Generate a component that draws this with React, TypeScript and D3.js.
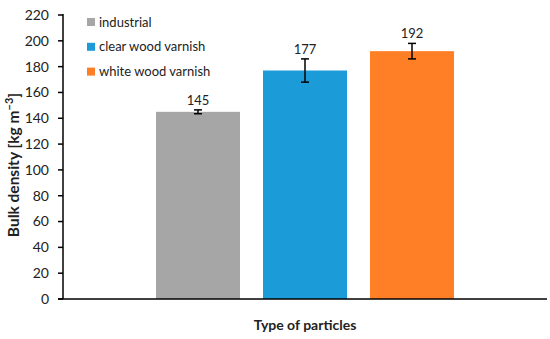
import React from "react";
import { scaleLinear, scaleBand } from "d3";

// one category, three particle types
const categories = ["Type of particles"];
const seriesNames = ["industrial", "clear wood varnish", "white wood varnish"];
const seriesValues = [145, 177, 192];
const seriesErrors = [1.5, 9, 6];
const seriesColors = ["#a6a6a6", "#1b9bd7", "#fe7f26"];
const yTicks = [0, 20, 40, 60, 80, 100, 120, 140, 160, 180, 200, 220];

const W = 550;
const H = 339;
const left = 63;
const right = 547;
const top = 15;
const bottom = 299;
const font = "Lato, 'Open Sans', sans-serif";

export default function App() {
  const y = scaleLinear().domain([0, 220]).range([bottom, top]);
  const x0 = scaleBand().domain(categories).range([left, right]).paddingInner(0).paddingOuter(0.312);
  const x1 = scaleBand().domain(seriesNames).range([0, x0.bandwidth()]).paddingInner(0.215).paddingOuter(0);

  return (
    <svg width={W} height={H} style={{ position: "absolute", left: 0, top: 0, background: "#fff" }}>
      {/* bars */}
      {seriesNames.map((s, i) => {
        const bx = (x0(categories[0]) as number) + (x1(s) as number);
        const cx = bx + x1.bandwidth() / 2;
        const v = seriesValues[i];
        const e = seriesErrors[i];
        return (
          <g key={s}>
            <rect x={bx} y={y(v)} width={x1.bandwidth()} height={y(0) - y(v)} fill={seriesColors[i]} />
            <line x1={cx} x2={cx} y1={y(v + e)} y2={y(v - e)} stroke="#000" strokeWidth={1.5} />
            <line x1={cx - 4} x2={cx + 4} y1={y(v + e)} y2={y(v + e)} stroke="#000" strokeWidth={1.5} />
            <line x1={cx - 4} x2={cx + 4} y1={y(v - e)} y2={y(v - e)} stroke="#000" strokeWidth={1.5} />
            <text x={cx} y={y(v + e) - 5} textAnchor="middle" fontFamily={font} fontSize={13} fill="#222">
              {v}
            </text>
          </g>
        );
      })}

      {/* y axis */}
      <line x1={left} x2={left} y1={top - 1} y2={bottom} stroke="#000" strokeWidth={1.5} />
      {yTicks.map((t) => (
        <g key={t}>
          <line x1={left - 5} x2={left} y1={y(t)} y2={y(t)} stroke="#000" strokeWidth={1.5} />
          <text x={left - 14} y={y(t)} dy="0.35em" textAnchor="end" fontFamily={font} fontSize={14} fill="#222">
            {t}
          </text>
        </g>
      ))}

      {/* x axis */}
      <line x1={left - 5} x2={right} y1={bottom} y2={bottom} stroke="#000" strokeWidth={1.5} />

      {/* axis titles */}
      <text
        transform={`translate(14,165) rotate(-90)`}
        textAnchor="middle"
        dy="0.35em"
        fontFamily={font}
        fontSize={15.5}
        fontWeight="bold"
        fill="#222"
      >
        Bulk density [kg m<tspan dy="-6" fontSize={11}>−3</tspan>
        <tspan dy="6">]</tspan>
      </text>
      <text x={(left + right) / 2} y={325} dy="0.35em" textAnchor="middle" fontFamily={font} fontSize={14} fontWeight="bold" fill="#222">
        {categories[0]}
      </text>

      {/* legend */}
      {seriesNames.map((s, i) => (
        <g key={s} transform={`translate(87,${22 + i * 24.8})`}>
          <rect x={0} y={-4} width={8} height={8} fill={seriesColors[i]} />
          <text x={12} y={0} dy="0.35em" fontFamily={font} fontSize={13} fill="#222">
            {s}
          </text>
        </g>
      ))}
    </svg>
  );
}
